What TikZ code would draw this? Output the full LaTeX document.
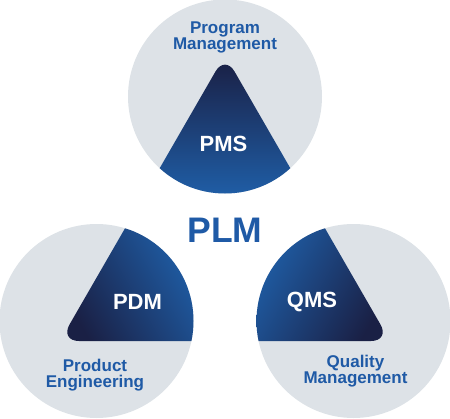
\documentclass[tikz,border=0pt]{standalone}
\usepackage{fontspec}
\setmainfont{Liberation Sans}
\usepackage{xcolor}
\usetikzlibrary{positioning}
\definecolor{plmgray}{HTML}{DDE2E7}
\definecolor{plmblue}{HTML}{1F5AA6}
\definecolor{plmnavy}{HTML}{1A2045}
\definecolor{plmlight}{HTML}{1F5DA5}
\tikzset{%
	bubble/.style  = {fill=plmgray}, % circle
	wedge/.style   = {top color=plmnavy, bottom color=plmlight}, % dark part
	caption/.style = {text=plmblue, align=center, font=\bfseries\fontsize{17}{16}\selectfont},
	tag/.style     = {text=white, font=\bfseries\fontsize{22}{24}\selectfont},
	hub/.style     = {text=plmblue, font=\bfseries\fontsize{35.5}{40}\selectfont},
}

\begin{document}
\begin{tikzpicture}[x=1pt,y=-1pt]
	\useasboundingbox (0,0) rectangle (450,418);
	\coordinate (ctop) at (225,96.5);
	\coordinate (cleft) at (96.5,321);
	\coordinate (cright) at (353.5,321);
	\coordinate (ta) at (225,55);
	\coordinate (la) at (60,341);
	\coordinate (ra) at (390,341);
	% circles
	\fill[bubble] (ctop) circle (97);
	\fill[bubble] (cleft) circle (97);
	\fill[bubble] (cright) circle (97);
	% dark parts
	\begin{scope}
		\clip (ctop) circle (97);
		\clip[rounded corners=19pt] (ta) -- (la) -- (ra) -- cycle;
		\shade[wedge] (150,60) rectangle (300,194);
	\end{scope}
	\begin{scope}
		\clip (cleft) circle (97);
		\clip[rounded corners=19pt] (ta) -- (la) -- (ra) -- cycle;
		\shade[wedge, shading angle=120] (64,226) rectangle (194,343);
	\end{scope}
	\begin{scope}
		\clip (cright) circle (97);
		\clip[rounded corners=19pt] (ta) -- (la) -- (ra) -- cycle;
		\shade[wedge, shading angle=-120] (256,226) rectangle (386,343);
	\end{scope}
	% labels
	\node[hub] (plm) at (225,230.5) {PLM};
	\node[tag] (pms) at (223.5,143.5) {PMS};
	\node[tag] (pdm) at (137.5,301.5) {PDM};
	\node[tag] (qms) at (312,301.5) {QMS};
	\node[caption] (prog) at (225,37) {Program\\Management};
	\node[caption] (prod) at (95,375) {Product\\Engineering};
	\node[caption] (qual) at (355.5,371) {Quality\\Management};
\end{tikzpicture}
\end{document}
